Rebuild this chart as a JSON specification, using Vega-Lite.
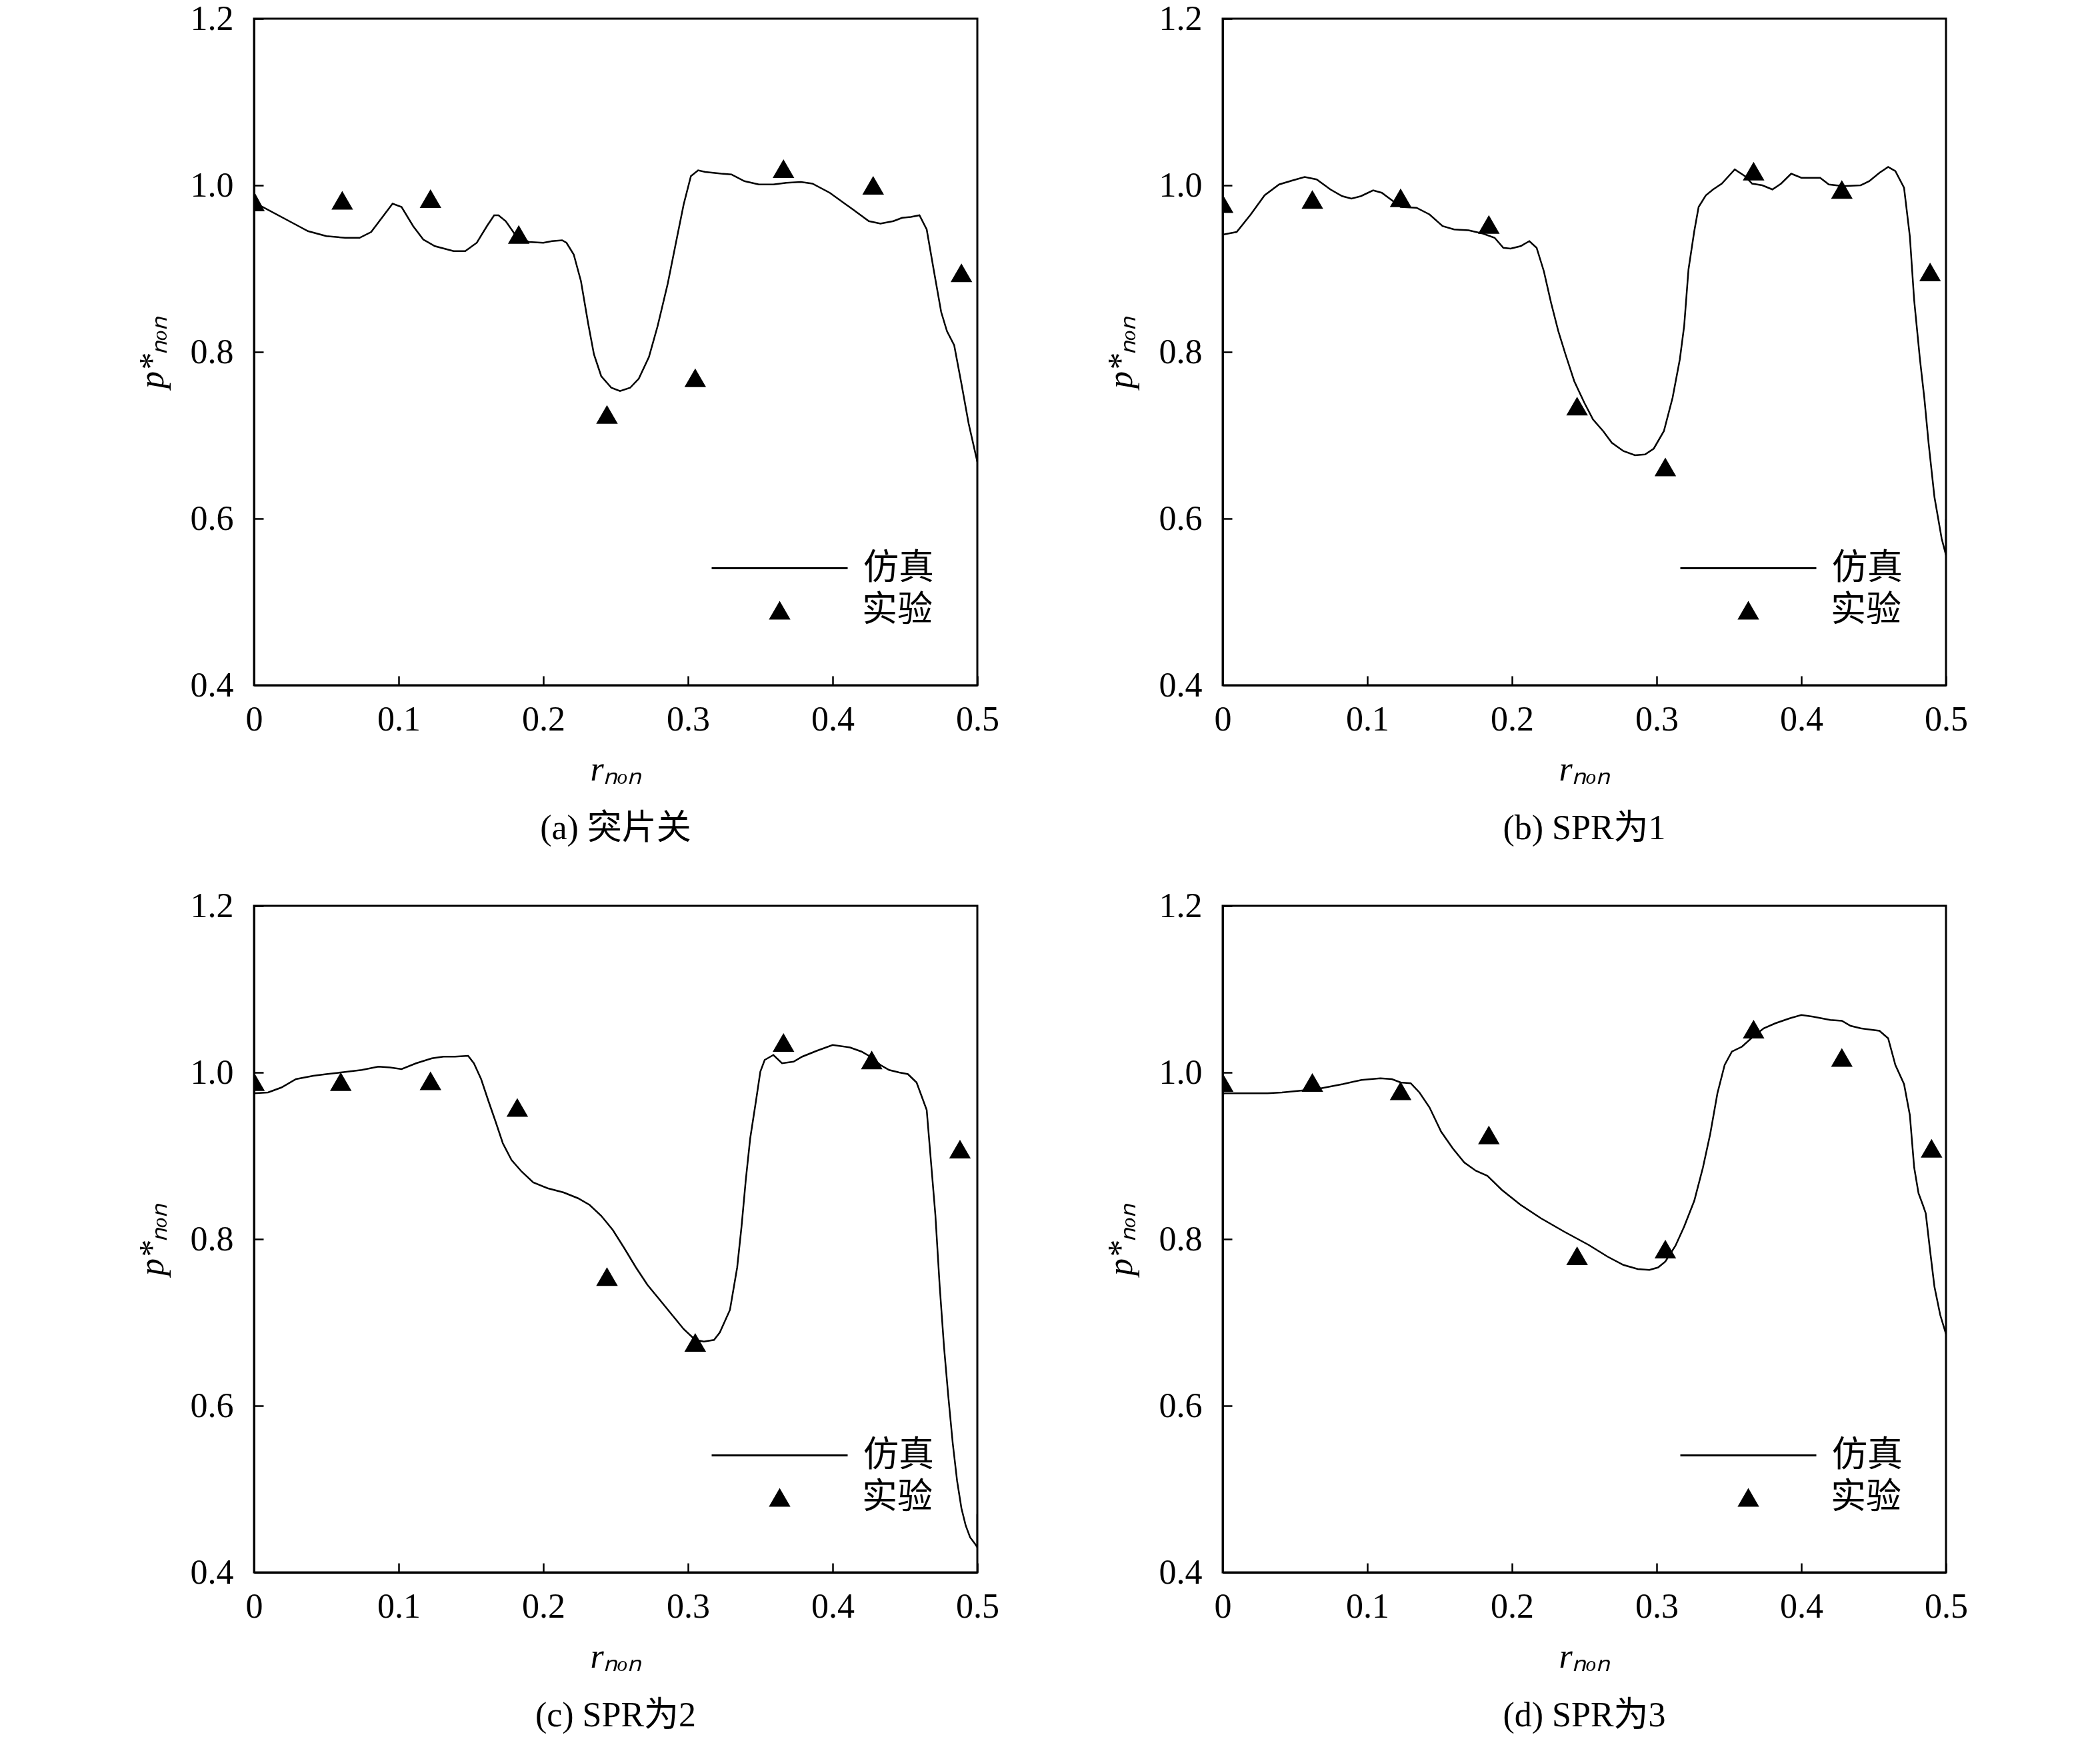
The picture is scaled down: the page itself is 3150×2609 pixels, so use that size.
{
"$schema":"https://vega.github.io/schema/vega-lite/v6.json",
"background":"white",
"padding":{"left":200,"top":0,"right":5,"bottom":5},
"config":{
 "font":"Liberation Serif",
 "view":{"stroke":"black","strokeWidth":3},
 "axis":{"grid":false,"domainColor":"black","domainWidth":3,"tickColor":"black","tickWidth":2.5,"tickSize":-14,"labelFlush":false,
  "labelFont":"Liberation Serif","labelFontSize":52,"labelColor":"black",
  "titleFont":"Liberation Serif","titleFontSize":52,"titleFontWeight":"normal","titleFontStyle":"italic","titleColor":"black"},
 "axisX":{"labelPadding":40,"titlePadding":24},
 "axisY":{"labelPadding":45,"titlePadding":30},
 "title":{"font":"Liberation Serif, Noto Sans CJK SC","fontSize":52,"fontWeight":"normal","color":"black","offset":38},
 "legend":{"orient":"none","padding":0,"labelFont":"Noto Sans CJK SC","labelFontSize":53,"labelFontWeight":"normal","labelColor":"black","rowPadding":0,"symbolOpacity":1}
},
"datasets":{
 "simA":[{"r":0,"p":0.955},{"r":0.0003,"p":0.99},{"r":0.005,"p":0.975},{"r":0.0308,"p":0.951},{"r":0.0373,"p":0.945},{"r":0.05,"p":0.939},{"r":0.063,"p":0.937},{"r":0.073,"p":0.937},{"r":0.081,"p":0.944},{"r":0.0958,"p":0.978},{"r":0.102,"p":0.974},{"r":0.11,"p":0.951},{"r":0.117,"p":0.935},{"r":0.125,"p":0.927},{"r":0.138,"p":0.921},{"r":0.146,"p":0.921},{"r":0.154,"p":0.931},{"r":0.161,"p":0.951},{"r":0.166,"p":0.964},{"r":0.169,"p":0.964},{"r":0.174,"p":0.957},{"r":0.18,"p":0.942},{"r":0.19,"p":0.932},{"r":0.2,"p":0.931},{"r":0.206,"p":0.933},{"r":0.213,"p":0.934},{"r":0.216,"p":0.931},{"r":0.221,"p":0.917},{"r":0.226,"p":0.885},{"r":0.231,"p":0.834},{"r":0.235,"p":0.797},{"r":0.24,"p":0.771},{"r":0.247,"p":0.757},{"r":0.253,"p":0.753},{"r":0.26,"p":0.757},{"r":0.266,"p":0.768},{"r":0.273,"p":0.794},{"r":0.279,"p":0.831},{"r":0.286,"p":0.882},{"r":0.292,"p":0.934},{"r":0.297,"p":0.977},{"r":0.302,"p":1.011},{"r":0.307,"p":1.018},{"r":0.312,"p":1.016},{"r":0.323,"p":1.014},{"r":0.33,"p":1.013},{"r":0.339,"p":1.005},{"r":0.349,"p":1.001},{"r":0.359,"p":1.001},{"r":0.368,"p":1.003},{"r":0.378,"p":1.004},{"r":0.386,"p":1.002},{"r":0.398,"p":0.991},{"r":0.414,"p":0.971},{"r":0.425,"p":0.957},{"r":0.433,"p":0.954},{"r":0.442,"p":0.957},{"r":0.448,"p":0.961},{"r":0.454,"p":0.962},{"r":0.46,"p":0.964},{"r":0.465,"p":0.947},{"r":0.47,"p":0.897},{"r":0.475,"p":0.848},{"r":0.479,"p":0.825},{"r":0.484,"p":0.808},{"r":0.489,"p":0.762},{"r":0.494,"p":0.714},{"r":0.5,"p":0.668}],
 "expA":[{"r":0,"p":0.98,"series":"实验"},{"r":0.061,"p":0.982,"series":"实验"},{"r":0.122,"p":0.984,"series":"实验"},{"r":0.183,"p":0.941,"series":"实验"},{"r":0.244,"p":0.725,"series":"实验"},{"r":0.305,"p":0.769,"series":"实验"},{"r":0.366,"p":1.02,"series":"实验"},{"r":0.428,"p":1.0,"series":"实验"},{"r":0.489,"p":0.895,"series":"实验"}],
 "simB":[{"r":0,"p":0.935},{"r":0.0005,"p":0.941},{"r":0.0097,"p":0.944},{"r":0.0194,"p":0.965},{"r":0.029,"p":0.988},{"r":0.039,"p":1.001},{"r":0.0486,"p":1.006},{"r":0.0567,"p":1.01},{"r":0.065,"p":1.007},{"r":0.0745,"p":0.995},{"r":0.0826,"p":0.987},{"r":0.089,"p":0.984},{"r":0.0956,"p":0.987},{"r":0.104,"p":0.994},{"r":0.11,"p":0.991},{"r":0.117,"p":0.982},{"r":0.123,"p":0.974},{"r":0.134,"p":0.973},{"r":0.143,"p":0.965},{"r":0.152,"p":0.951},{"r":0.16,"p":0.947},{"r":0.17,"p":0.946},{"r":0.18,"p":0.942},{"r":0.188,"p":0.937},{"r":0.194,"p":0.925},{"r":0.199,"p":0.924},{"r":0.206,"p":0.927},{"r":0.212,"p":0.933},{"r":0.217,"p":0.925},{"r":0.222,"p":0.897},{"r":0.227,"p":0.859},{"r":0.232,"p":0.825},{"r":0.237,"p":0.797},{"r":0.243,"p":0.765},{"r":0.25,"p":0.739},{"r":0.256,"p":0.719},{"r":0.263,"p":0.705},{"r":0.269,"p":0.691},{"r":0.277,"p":0.681},{"r":0.285,"p":0.676},{"r":0.292,"p":0.677},{"r":0.298,"p":0.684},{"r":0.305,"p":0.705},{"r":0.311,"p":0.745},{"r":0.316,"p":0.791},{"r":0.319,"p":0.831},{"r":0.322,"p":0.899},{"r":0.326,"p":0.945},{"r":0.329,"p":0.974},{"r":0.334,"p":0.988},{"r":0.339,"p":0.995},{"r":0.345,"p":1.002},{"r":0.354,"p":1.019},{"r":0.361,"p":1.011},{"r":0.366,"p":1.002},{"r":0.373,"p":1.0},{"r":0.38,"p":0.995},{"r":0.386,"p":1.002},{"r":0.393,"p":1.014},{"r":0.4,"p":1.009},{"r":0.413,"p":1.009},{"r":0.419,"p":1.001},{"r":0.429,"p":0.999},{"r":0.441,"p":1.0},{"r":0.447,"p":1.005},{"r":0.454,"p":1.015},{"r":0.46,"p":1.022},{"r":0.465,"p":1.017},{"r":0.471,"p":0.997},{"r":0.475,"p":0.939},{"r":0.478,"p":0.862},{"r":0.482,"p":0.791},{"r":0.485,"p":0.745},{"r":0.488,"p":0.69},{"r":0.492,"p":0.626},{"r":0.497,"p":0.576},{"r":0.5,"p":0.556},{"r":0.5,"p":0.599}],
 "expB":[{"r":0,"p":0.978,"series":"实验"},{"r":0.062,"p":0.983,"series":"实验"},{"r":0.123,"p":0.985,"series":"实验"},{"r":0.184,"p":0.953,"series":"实验"},{"r":0.245,"p":0.735,"series":"实验"},{"r":0.306,"p":0.662,"series":"实验"},{"r":0.367,"p":1.017,"series":"实验"},{"r":0.428,"p":0.995,"series":"实验"},{"r":0.489,"p":0.896,"series":"实验"}],
 "simC":[{"r":0,"p":0.975},{"r":0.0097,"p":0.976},{"r":0.019,"p":0.982},{"r":0.029,"p":0.992},{"r":0.041,"p":0.996},{"r":0.05,"p":0.998},{"r":0.06,"p":1.0},{"r":0.0745,"p":1.003},{"r":0.086,"p":1.007},{"r":0.094,"p":1.006},{"r":0.102,"p":1.004},{"r":0.112,"p":1.011},{"r":0.123,"p":1.017},{"r":0.131,"p":1.019},{"r":0.139,"p":1.019},{"r":0.148,"p":1.02},{"r":0.152,"p":1.011},{"r":0.157,"p":0.992},{"r":0.162,"p":0.966},{"r":0.167,"p":0.941},{"r":0.172,"p":0.915},{"r":0.178,"p":0.895},{"r":0.185,"p":0.881},{"r":0.193,"p":0.868},{"r":0.203,"p":0.861},{"r":0.214,"p":0.856},{"r":0.224,"p":0.849},{"r":0.232,"p":0.841},{"r":0.24,"p":0.828},{"r":0.248,"p":0.811},{"r":0.256,"p":0.789},{"r":0.264,"p":0.766},{"r":0.272,"p":0.745},{"r":0.281,"p":0.726},{"r":0.289,"p":0.709},{"r":0.297,"p":0.692},{"r":0.305,"p":0.679},{"r":0.311,"p":0.677},{"r":0.318,"p":0.679},{"r":0.322,"p":0.688},{"r":0.329,"p":0.715},{"r":0.334,"p":0.766},{"r":0.337,"p":0.815},{"r":0.34,"p":0.872},{"r":0.343,"p":0.921},{"r":0.347,"p":0.966},{"r":0.35,"p":1.001},{"r":0.353,"p":1.015},{"r":0.359,"p":1.021},{"r":0.365,"p":1.011},{"r":0.373,"p":1.013},{"r":0.379,"p":1.019},{"r":0.389,"p":1.026},{"r":0.4,"p":1.033},{"r":0.412,"p":1.03},{"r":0.42,"p":1.025},{"r":0.426,"p":1.019},{"r":0.433,"p":1.009},{"r":0.439,"p":1.003},{"r":0.446,"p":1.0},{"r":0.452,"p":0.998},{"r":0.458,"p":0.988},{"r":0.465,"p":0.955},{"r":0.468,"p":0.892},{"r":0.471,"p":0.829},{"r":0.474,"p":0.743},{"r":0.477,"p":0.67},{"r":0.48,"p":0.61},{"r":0.483,"p":0.555},{"r":0.486,"p":0.51},{"r":0.489,"p":0.477},{"r":0.492,"p":0.456},{"r":0.495,"p":0.442},{"r":0.4985,"p":0.434},{"r":0.5,"p":0.43},{"r":0.5,"p":0.47}],
 "expC":[{"r":0,"p":0.989,"series":"实验"},{"r":0.06,"p":0.989,"series":"实验"},{"r":0.122,"p":0.99,"series":"实验"},{"r":0.182,"p":0.958,"series":"实验"},{"r":0.244,"p":0.755,"series":"实验"},{"r":0.305,"p":0.676,"series":"实验"},{"r":0.366,"p":1.036,"series":"实验"},{"r":0.427,"p":1.015,"series":"实验"},{"r":0.488,"p":0.908,"series":"实验"}],
 "simD":[{"r":0,"p":0.963},{"r":0.0005,"p":0.975},{"r":0.0146,"p":0.975},{"r":0.031,"p":0.975},{"r":0.041,"p":0.976},{"r":0.053,"p":0.978},{"r":0.068,"p":0.981},{"r":0.083,"p":0.986},{"r":0.096,"p":0.991},{"r":0.109,"p":0.993},{"r":0.117,"p":0.992},{"r":0.123,"p":0.988},{"r":0.13,"p":0.987},{"r":0.136,"p":0.976},{"r":0.143,"p":0.958},{"r":0.151,"p":0.929},{"r":0.159,"p":0.909},{"r":0.167,"p":0.892},{"r":0.175,"p":0.882},{"r":0.183,"p":0.876},{"r":0.193,"p":0.859},{"r":0.206,"p":0.841},{"r":0.22,"p":0.825},{"r":0.236,"p":0.809},{"r":0.253,"p":0.793},{"r":0.266,"p":0.779},{"r":0.277,"p":0.769},{"r":0.287,"p":0.764},{"r":0.295,"p":0.763},{"r":0.301,"p":0.766},{"r":0.306,"p":0.773},{"r":0.313,"p":0.792},{"r":0.319,"p":0.815},{"r":0.326,"p":0.846},{"r":0.332,"p":0.886},{"r":0.337,"p":0.926},{"r":0.342,"p":0.975},{"r":0.347,"p":1.009},{"r":0.352,"p":1.025},{"r":0.359,"p":1.031},{"r":0.366,"p":1.042},{"r":0.374,"p":1.053},{"r":0.382,"p":1.059},{"r":0.392,"p":1.065},{"r":0.4,"p":1.069},{"r":0.408,"p":1.067},{"r":0.42,"p":1.063},{"r":0.428,"p":1.062},{"r":0.434,"p":1.056},{"r":0.441,"p":1.053},{"r":0.454,"p":1.05},{"r":0.46,"p":1.041},{"r":0.465,"p":1.009},{"r":0.471,"p":0.986},{"r":0.475,"p":0.949},{"r":0.478,"p":0.886},{"r":0.481,"p":0.855},{"r":0.484,"p":0.841},{"r":0.486,"p":0.831},{"r":0.489,"p":0.786},{"r":0.492,"p":0.743},{"r":0.496,"p":0.709},{"r":0.5,"p":0.686}],
 "expD":[{"r":0,"p":0.988,"series":"实验"},{"r":0.062,"p":0.988,"series":"实验"},{"r":0.123,"p":0.978,"series":"实验"},{"r":0.184,"p":0.925,"series":"实验"},{"r":0.245,"p":0.78,"series":"实验"},{"r":0.306,"p":0.788,"series":"实验"},{"r":0.367,"p":1.052,"series":"实验"},{"r":0.428,"p":1.018,"series":"实验"},{"r":0.49,"p":0.909,"series":"实验"}]
},
"columns":2,
"spacing":{"row":331,"column":368},
"bounds":"flush",
"resolve":{"scale":{"shape":"independent","color":"independent"},"legend":{"shape":"independent","color":"independent"}},
"concat":[
 {"width":1085,"height":1000,"title":{"text":"(a) 突片关","orient":"bottom"},
  "layer":[
   {"data":{"name":"simA"},"mark":{"type":"line","strokeWidth":2.5,"clip":true},
    "encoding":{"x":{"field":"r","type":"quantitative","scale":{"domain":[0,0.5],"nice":false,"zero":false},"axis":{"values":[0,0.1,0.2,0.3,0.4,0.5],"labelExpr":"datum.value == 0 ? '0' : format(datum.value, '.1f')","title":"rₙₒₙ"}},
     "y":{"field":"p","type":"quantitative","scale":{"domain":[0.4,1.2],"nice":false,"zero":false},"axis":{"values":[0.4,0.6,0.8,1.0,1.2],"format":".1f","title":"p*ₙₒₙ"}},
     "color":{"datum":"仿真","type":"nominal","scale":{"domain":["仿真"],"range":["black"]},"legend":{"title":null,"symbolType":"stroke","symbolSize":41616,"symbolStrokeWidth":3,"symbolStrokeColor":"black","legendX":685,"legendY":721,"labelOffset":22}},
     "order":{"value":null}}},
   {"data":{"name":"expA"},"mark":{"type":"point","filled":true,"color":"black","size":1050,"opacity":1,"clip":true},
    "encoding":{"x":{"field":"r","type":"quantitative"},"y":{"field":"p","type":"quantitative"},
     "shape":{"field":"series","type":"nominal","scale":{"domain":["实验"],"range":["triangle-up"]},"legend":{"title":null,"symbolSize":1050,"symbolFillColor":"black","legendX":762,"legendY":861,"labelOffset":97}}}}
  ]},
 {"width":1085,"height":1000,"title":{"text":"(b) SPR为1","orient":"bottom"},
  "layer":[
   {"data":{"name":"simB"},"mark":{"type":"line","strokeWidth":2.5,"clip":true},
    "encoding":{"x":{"field":"r","type":"quantitative","scale":{"domain":[0,0.5],"nice":false,"zero":false},"axis":{"values":[0,0.1,0.2,0.3,0.4,0.5],"labelExpr":"datum.value == 0 ? '0' : format(datum.value, '.1f')","title":"rₙₒₙ"}},
     "y":{"field":"p","type":"quantitative","scale":{"domain":[0.4,1.2],"nice":false,"zero":false},"axis":{"values":[0.4,0.6,0.8,1.0,1.2],"format":".1f","title":"p*ₙₒₙ"}},
     "color":{"datum":"仿真","type":"nominal","scale":{"domain":["仿真"],"range":["black"]},"legend":{"title":null,"symbolType":"stroke","symbolSize":41616,"symbolStrokeWidth":3,"symbolStrokeColor":"black","legendX":685,"legendY":721,"labelOffset":22}},
     "order":{"value":null}}},
   {"data":{"name":"expB"},"mark":{"type":"point","filled":true,"color":"black","size":1050,"opacity":1,"clip":true},
    "encoding":{"x":{"field":"r","type":"quantitative"},"y":{"field":"p","type":"quantitative"},
     "shape":{"field":"series","type":"nominal","scale":{"domain":["实验"],"range":["triangle-up"]},"legend":{"title":null,"symbolSize":1050,"symbolFillColor":"black","legendX":762,"legendY":861,"labelOffset":97}}}}
  ]},
 {"width":1085,"height":1000,"title":{"text":"(c) SPR为2","orient":"bottom"},
  "layer":[
   {"data":{"name":"simC"},"mark":{"type":"line","strokeWidth":2.5,"clip":true},
    "encoding":{"x":{"field":"r","type":"quantitative","scale":{"domain":[0,0.5],"nice":false,"zero":false},"axis":{"values":[0,0.1,0.2,0.3,0.4,0.5],"labelExpr":"datum.value == 0 ? '0' : format(datum.value, '.1f')","title":"rₙₒₙ"}},
     "y":{"field":"p","type":"quantitative","scale":{"domain":[0.4,1.2],"nice":false,"zero":false},"axis":{"values":[0.4,0.6,0.8,1.0,1.2],"format":".1f","title":"p*ₙₒₙ"}},
     "color":{"datum":"仿真","type":"nominal","scale":{"domain":["仿真"],"range":["black"]},"legend":{"title":null,"symbolType":"stroke","symbolSize":41616,"symbolStrokeWidth":3,"symbolStrokeColor":"black","legendX":685,"legendY":721,"labelOffset":22}},
     "order":{"value":null}}},
   {"data":{"name":"expC"},"mark":{"type":"point","filled":true,"color":"black","size":1050,"opacity":1,"clip":true},
    "encoding":{"x":{"field":"r","type":"quantitative"},"y":{"field":"p","type":"quantitative"},
     "shape":{"field":"series","type":"nominal","scale":{"domain":["实验"],"range":["triangle-up"]},"legend":{"title":null,"symbolSize":1050,"symbolFillColor":"black","legendX":762,"legendY":861,"labelOffset":97}}}}
  ]},
 {"width":1085,"height":1000,"title":{"text":"(d) SPR为3","orient":"bottom"},
  "layer":[
   {"data":{"name":"simD"},"mark":{"type":"line","strokeWidth":2.5,"clip":true},
    "encoding":{"x":{"field":"r","type":"quantitative","scale":{"domain":[0,0.5],"nice":false,"zero":false},"axis":{"values":[0,0.1,0.2,0.3,0.4,0.5],"labelExpr":"datum.value == 0 ? '0' : format(datum.value, '.1f')","title":"rₙₒₙ"}},
     "y":{"field":"p","type":"quantitative","scale":{"domain":[0.4,1.2],"nice":false,"zero":false},"axis":{"values":[0.4,0.6,0.8,1.0,1.2],"format":".1f","title":"p*ₙₒₙ"}},
     "color":{"datum":"仿真","type":"nominal","scale":{"domain":["仿真"],"range":["black"]},"legend":{"title":null,"symbolType":"stroke","symbolSize":41616,"symbolStrokeWidth":3,"symbolStrokeColor":"black","legendX":685,"legendY":721,"labelOffset":22}},
     "order":{"value":null}}},
   {"data":{"name":"expD"},"mark":{"type":"point","filled":true,"color":"black","size":1050,"opacity":1,"clip":true},
    "encoding":{"x":{"field":"r","type":"quantitative"},"y":{"field":"p","type":"quantitative"},
     "shape":{"field":"series","type":"nominal","scale":{"domain":["实验"],"range":["triangle-up"]},"legend":{"title":null,"symbolSize":1050,"symbolFillColor":"black","legendX":762,"legendY":861,"labelOffset":97}}}}
  ]}
]
}
